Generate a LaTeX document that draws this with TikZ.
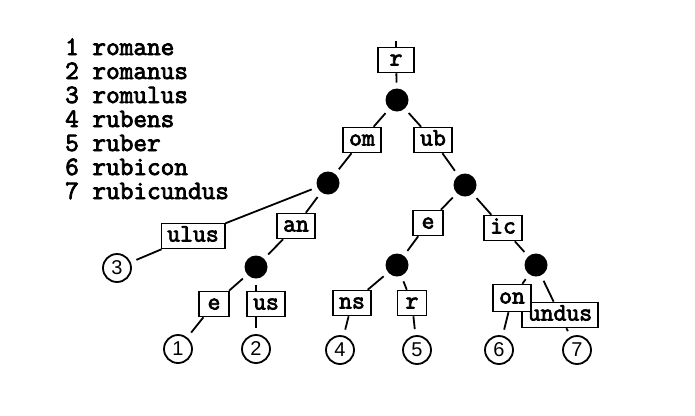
\documentclass[tikz,border=0pt]{standalone}
\usepackage{fontspec}
\newfontfamily\digitfont{Liberation Sans}
\newfontfamily\courfont{Latin Modern Mono}[FakeBold=3]
\usetikzlibrary{backgrounds}

\tikzset{
  edge/.style={line width=1.8bp},
  lbl/.style={draw, line width=1.5bp, fill=white, inner xsep=6bp, inner ysep=0pt,
    minimum width=30bp, minimum height=25bp, text height=11bp, text depth=0pt,
    font=\fontsize{25bp}{26bp}\selectfont\courfont},
  branch/.style={circle, fill=black, inner sep=0pt, minimum size=23bp, outer sep=6bp},
  leaf/.style={circle, draw, line width=1.8bp, inner sep=0pt, minimum size=28bp,
    outer sep=7bp, font=\fontsize{20bp}{20bp}\selectfont\digitfont},
  legend/.style={anchor=base west, inner sep=0pt,
    font=\fontsize{26.5bp}{26bp}\selectfont\courfont}
}

\begin{document}
\begin{tikzpicture}[x=1bp, y=-1bp]
\useasboundingbox (0,0) rectangle (695,415);

% word list
\node[legend] (w1) at (65,55)  {1 romane};
\node[legend] (w2) at (65,79)  {2 romanus};
\node[legend] (w3) at (65,103) {3 romulus};
\node[legend] (w4) at (65,127) {4 rubens};
\node[legend] (w5) at (65,151) {5 ruber};
\node[legend] (w6) at (65,175) {6 rubicon};
\node[legend] (w7) at (65,199) {7 rubicundus};

% branching points of the trie
\node[branch] (root) at (397,100) {};
\node[branch] (dl)   at (328,183) {};
\node[branch] (dr)   at (465,185) {};
\node[branch] (da)   at (256,267) {};
\node[branch] (de)   at (397,265) {};
\node[branch] (di)   at (536,265) {};

% word leaves
\node[leaf] (c1) at (178,349) {1};
\node[leaf] (c2) at (256,349) {2};
\node[leaf] (c3) at (117,268) {3};
\node[leaf] (c4) at (340,350) {4};
\node[leaf] (c5) at (417,350) {5};
\node[leaf] (c6) at (499,350) {6};
\node[leaf] (c7) at (577,350) {7};

% edge labels
\coordinate (top) at (396,41);
\node[lbl, minimum width=36bp] (rbox) at (396,60) {r};
\node[lbl] (om)    at (362,140) {om};
\node[lbl] (ub)    at (433,140) {ub};
\node[lbl] (ulus)  at (193,236) {ulus};
\node[lbl] (an)    at (296,226) {an};
\node[lbl] (le)    at (214,304) {e};
\node[lbl] (us)    at (266,304) {us};
\node[lbl] (re)    at (428,223) {e};
\node[lbl] (ic)    at (503,228) {ic};
\node[lbl] (ns)    at (352,303) {ns};
\node[lbl, minimum width=29bp] (rr) at (412,303) {r};
\node[lbl] (undus) at (560,315) {undus};
\node[lbl, minimum height=27bp] (on) at (512,298) {on};

% connectors
\begin{scope}[on background layer]
  \draw[edge] (top) -- (rbox) -- (root);
  \draw[edge] (root) -- (om) -- (dl);
  \draw[edge] (root) -- (ub) -- (dr);
  \draw[edge] (dl) -- (ulus) -- (c3);
  \draw[edge] (dl) -- (an) -- (da);
  \draw[edge] (da) -- (le) -- (c1);
  \draw[edge] (da) -- (c2);
  \draw[edge] (dr) -- (re) -- (de);
  \draw[edge] (dr) -- (ic) -- (di);
  \draw[edge] (de) -- (ns) -- (c4);
  \draw[edge] (de) -- (rr) -- (c5);
  \draw[edge] (di) -- (on) -- (c6);
  \draw[edge] (di) -- (undus) -- (c7);
\end{scope}
\end{tikzpicture}
\end{document}
